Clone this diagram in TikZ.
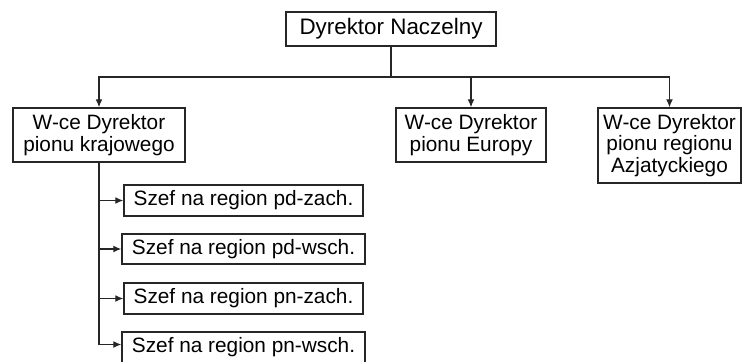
\documentclass[tikz,border=0pt]{standalone}
\usepackage{fontspec}
\setmainfont{Liberation Sans}
\usetikzlibrary{arrows.meta}
\begin{document}
\begin{tikzpicture}[x=0.5bp,y=-0.5bp,
 box/.style={draw=black!85,line width=0.7bp,align=center,inner sep=0pt,font=\fontsize{10.4bp}{9.4bp}\selectfont},
 line/.style={draw=black!85,line width=0.6bp},
 link/.style={line,-{Latex[length=4bp,width=3.4bp]}}]
 \useasboundingbox (0,0) rectangle (742,361);
 \node[box,minimum width=105bp,minimum height=17bp,font=\fontsize{11.2bp}{10bp}\selectfont] (naczelny) at (391,29) {Dyrektor Naczelny};
 \node[box,minimum width=86bp,minimum height=27bp] (krajowy) at (99,135) {W-ce Dyrektor\\pionu krajowego};
 \node[box,minimum width=75bp,minimum height=27bp] (europa) at (471,135) {W-ce Dyrektor\\pionu Europy};
 \node[box,minimum width=71.5bp,minimum height=37.5bp] (azja) at (669.5,145.5) {W-ce Dyrektor\\pionu regionu\\Azjatyckiego};
 \node[box,minimum width=119.5bp,minimum height=15.5bp] (pdzach) at (243.5,200.5) {Szef na region pd-zach.};
 \node[box,minimum width=121.5bp,minimum height=15bp] (pdwsch) at (243.5,249) {Szef na region pd-wsch.};
 \node[box,minimum width=119.5bp,minimum height=15.5bp] (pnzach) at (243.5,298.5) {Szef na region pn-zach.};
 \node[box,minimum width=121.5bp,minimum height=15.5bp] (pnwsch) at (243.5,347.5) {Szef na region pn-wsch.};
 \coordinate (bus) at (391,77);
 % naczelny -> wicedyrektorzy
 \draw[line] (naczelny.south) -- (bus);
 \draw[link] (bus) -| (krajowy);
 \draw[link] (bus) -| (europa);
 \draw[link] (bus) -| (azja);
 % krajowy -> regiony
 \draw[link] (krajowy.south) |- (pdzach);
 \draw[link] (krajowy.south) |- (pdwsch);
 \draw[link] (krajowy.south) |- (pnzach);
 \draw[link] (krajowy.south) |- ([yshift=1.5bp]pnwsch.west);
\end{tikzpicture}
\end{document}
